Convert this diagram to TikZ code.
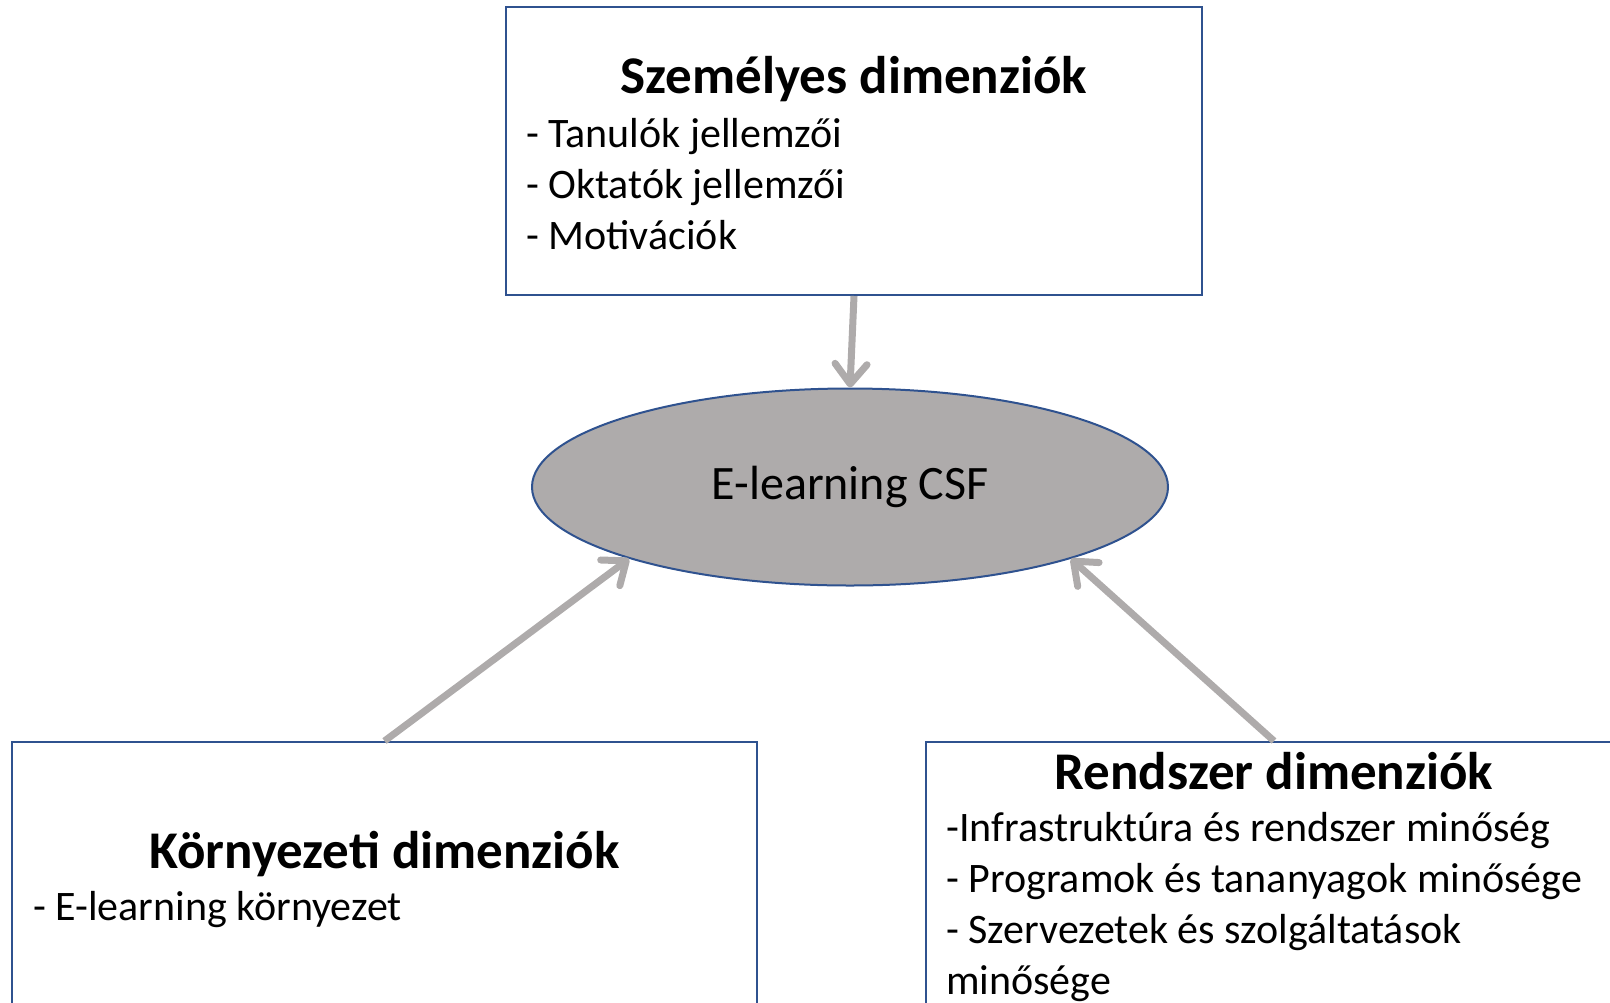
\documentclass[tikz,border=0pt]{standalone}
\usepackage{fontspec}
\setmainfont{Carlito}
\usetikzlibrary{positioning,shapes.geometric,arrows.meta}
\definecolor{boxblue}{HTML}{2F528F}
\definecolor{csfgray}{HTML}{AEABAB}

\begin{document}
\begin{tikzpicture}[
			x=1pt, y=-1pt,
			dimbox/.style={draw=boxblue, line width=2pt, rectangle, minimum width=696pt, minimum height=288pt, inner sep=0pt},
			dimtitle/.style={font=\fontsize{53}{62}\selectfont\bfseries, anchor=base, inner sep=0pt},
			dimlist/.style={font=\fontsize{42}{51}\selectfont, align=left, anchor=base west, inner sep=0pt},
			arrow/.style={-{Straight Barb[length=20pt,width=32pt,line cap=round,line join=round]}, line width=7pt, draw=csfgray}
			]
			\clip (0,0) rectangle (1610,1002);
			% Dobozok
			\node[dimbox] (szem) at (854,151) {};
			\node[dimbox, minimum width=745pt] (korny) at (384.5,886) {};
			\node[dimbox] (rend) at (1274,886) {};
			\node[ellipse, draw=boxblue, line width=2pt, fill=csfgray, minimum width=636pt, minimum height=197pt, inner sep=0pt, font=\fontsize{48}{56}\selectfont] (csf) at (850,487) {E-learning CSF};
			
			% Szovegek (a listak az utolso sor alapvonalahoz igazitva)
			\node[dimtitle] (szemtitle) at (854,93) {Személyes dimenziók};
			\node[dimlist] (szemlist) at (526,249) {- Tanulók jellemzői\\- Oktatók jellemzői\\- Motivációk};
			\node[dimtitle] (kornytitle) at (384.5,868) {Környezeti dimenziók};
			\node[dimlist] (kornylist) at (33,920) {- E-learning környezet};
			\node[dimtitle] (rendtitle) at (1274,789) {Rendszer dimenziók};
			\node[dimlist] (rendlist) at (946,994) {-Infrastruktúra és rendszer minőség\\- Programok és tananyagok minősége\\- Szervezetek és szolgáltatások\\minősége};
			
			% Nyilak
			\draw[arrow] (szem.south) -- (csf.north);
			\draw[arrow] (korny.north) -- (csf.198);
			\draw[arrow] (rend.north) -- (csf.342);
		\end{tikzpicture}
\end{document}
